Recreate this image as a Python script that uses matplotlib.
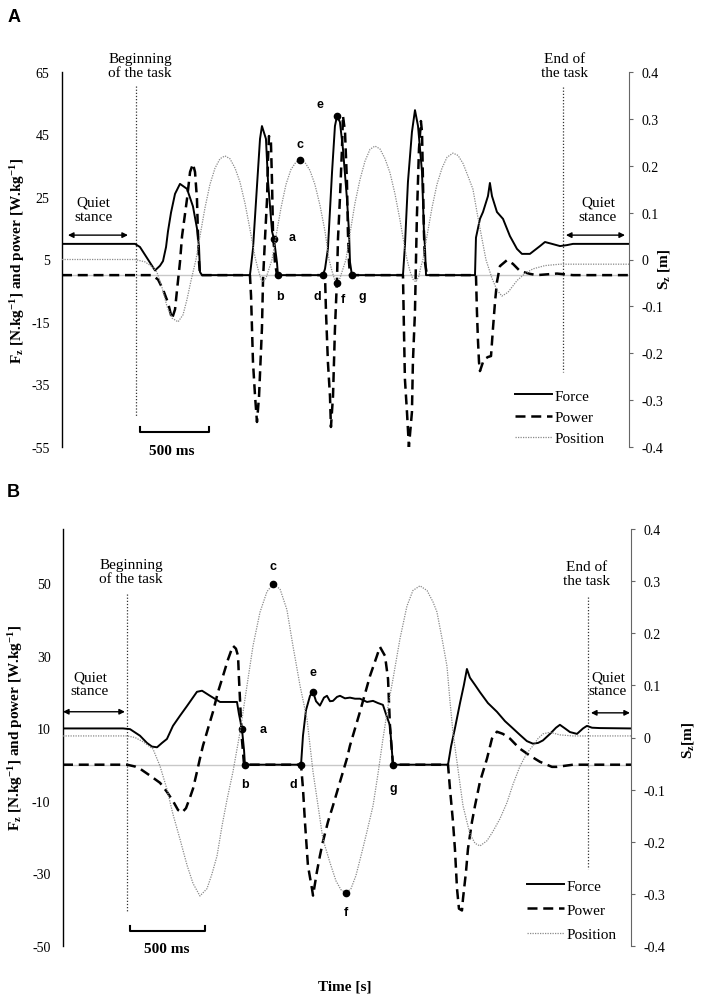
import matplotlib
matplotlib.use("Agg")
import matplotlib.pyplot as plt
import numpy as np

plt.rcParams["font.family"] = ["Liberation Serif", "DejaVu Serif"]
plt.rcParams["mathtext.fontset"] = "custom"
plt.rcParams["mathtext.rm"] = "Liberation Serif"
plt.rcParams["mathtext.bf"] = "Liberation Serif:bold"
plt.rcParams["mathtext.it"] = "Liberation Serif:italic"
plt.rcParams["axes.unicode_minus"] = False

# ---------------- panel A (time in ms) ----------------
a_force_t = [0, 529, 565, 616, 674, 710, 732, 754, 768, 790, 819, 855, 906, 949, 978, 993, 1000, 1014,
             1362, 1370, 1384, 1413, 1435, 1449, 1478, 1493, 1522, 1536, 1558, 1565,
             1891, 1906, 1927, 1957, 1978, 1993, 2014, 2036, 2065, 2080, 2087, 2101,
             2471, 2485, 2507, 2536, 2558, 2580, 2609, 2623, 2630, 2638,
             2993, 3000, 3029, 3051, 3087, 3101, 3116, 3152, 3196, 3246, 3297, 3333, 3391,
             3464, 3500, 3551, 3609, 3659, 3703, 4109]
a_force = [10, 10, 9, 5.5, 1.5, 3, 4.5, 9, 14, 20, 26, 29.2, 27.6, 22, 15, 9, 1, 0,
           0, 3, 8.4, 28.5, 43.6, 47.7, 43.6, 30, 14, 11.6, 4, 0,
           0, 2, 8.4, 33, 47.7, 50.9, 49, 40.4, 24.4, 13.8, 4.2, 0,
           0, 9.3, 29.8, 45.8, 52.8, 47.7, 33, 13.8, 9.3, 0,
           0, 12, 18, 20.2, 25.3, 29.5, 25.3, 20.2, 18, 12.5, 8.4, 6.8, 6.8,
           9.3, 10.6, 10, 9.3, 9.6, 10, 10]

a_power_t = [0, 652, 696, 732, 768, 797, 819, 833, 855, 870, 906, 928, 949, 964, 978, 985, 993, 1000,
             1362, 1370, 1377, 1384, 1399, 1413, 1428, 1449, 1457, 1471, 1486, 1493, 1500, 1514,
             1522, 1529, 1543, 1558,
             1906, 1913, 1927, 1942, 1949, 1964, 1978, 1993, 2000, 2014, 2029, 2036, 2051, 2065,
             2072, 2080, 2087,
             2471, 2478, 2485, 2500, 2514, 2536, 2543, 2558, 2565, 2572, 2587, 2601, 2609, 2616,
             2623, 2630, 2645,
             3000, 3007, 3014, 3022, 3029, 3051, 3065, 3087, 3109, 3123, 3138, 3152, 3174, 3225,
             3268, 3319, 3391, 3442, 3587, 3703, 4109]
a_power = [0, 0, -1.4, -4.6, -8.8, -14, -11, -5, 4.2, 12.5, 24.4, 33, 35.6, 33, 24.4, 13.8, 4.2, 0,
           0, -6.7, -17.2, -27.8, -38.7, -47, -38.7, -17, -1.2, 11.6, 24.4, 37.2, 44.5, 42.6,
           29.8, 13.8, 4.2, 0,
           0, -11.6, -27.8, -38.7, -48.6, -38.7, -17.2, -1.2, 11.6, 24.4, 40.4, 51, 45.8, 29.8,
           13.8, 4.2, 0,
           0, -17.2, -33.2, -43.8, -55, -43.8, -27.8, -11.6, 4.2, 18.9, 40.4, 49.3, 45.8, 29.8,
           13.8, 4.2, 0,
           0, -11.6, -20.4, -27.8, -30.7, -27.8, -26.8, -26.2, -25.9, -17.2, -8.6, -2.2, 2.9, 4.8,
           3.6, 1.3, 0.4, 0, 0.5, 0, 0]

a_pos_t = [0, 529, 601, 652, 688, 725, 761, 797, 841, 877, 906, 935, 971, 1000, 1036, 1072, 1109,
           1145, 1181, 1217, 1254, 1290, 1326, 1362, 1399, 1420, 1442, 1457, 1478, 1500, 1522,
           1551, 1587, 1623, 1659, 1696, 1725, 1761, 1797, 1833, 1870, 1906, 1935, 1957, 1978,
           1993, 2014, 2036, 2058, 2087, 2123, 2159, 2196, 2232, 2268, 2304, 2341, 2377, 2413,
           2449, 2478, 2500, 2522, 2543, 2565, 2587, 2601, 2616, 2645, 2681, 2717, 2754, 2790,
           2833, 2870, 2906, 2942, 2978, 3014, 3043, 3072, 3116, 3152, 3188, 3232, 3297, 3355,
           3413, 3500, 3609, 4109]
a_pos = [0, 0, -0.005, -0.015, -0.027, -0.06, -0.1, -0.125, -0.133, -0.118, -0.085, -0.045, 0.0,
         0.05, 0.11, 0.16, 0.195, 0.215, 0.221, 0.215, 0.195, 0.165, 0.12, 0.065, 0.005, -0.02,
         -0.042, -0.048, -0.04, -0.02, 0.0, 0.05, 0.11, 0.16, 0.192, 0.208, 0.212, 0.207, 0.19,
         0.16, 0.115, 0.06, 0.0, -0.025, -0.045, -0.05, -0.04, -0.02, 0.0, 0.055, 0.12, 0.17,
         0.21, 0.235, 0.242, 0.236, 0.215, 0.185, 0.14, 0.085, 0.035, 0.0, -0.025, -0.042,
         -0.048, -0.035, -0.015, 0.0, 0.05, 0.11, 0.16, 0.195, 0.218, 0.227, 0.222, 0.205,
         0.178, 0.15, 0.09, 0.045, 0.0, -0.04, -0.065, -0.078, -0.07, -0.045, -0.03, -0.02,
         -0.013, -0.01, -0.01]

# key events: letter, time, value, axis ("F" = force axis, "S" = position axis)
a_marks = [("a", 1536, 11.6, "F"), ("b", 1565, 0, "F"), ("c", 1725, 0.212, "S"),
           ("d", 1891, 0, "F"), ("e", 1993, 50.9, "F"), ("f", 1993, -0.05, "S"),
           ("g", 2101, 0, "F")]

# ---------------- panel B (time in ms) ----------------
b_force_t = [0, 400, 447, 513, 560, 593, 627, 660, 693, 733, 780, 827, 893, 927, 980, 1047, 1160,
             1173, 1193, 1207, 1213, 1587, 1600, 1620, 1647, 1667, 1687, 1713, 1740, 1760, 1780,
             1800, 1827, 1847, 1880, 1913, 1947, 1980, 2027, 2067, 2100, 2133, 2153, 2180, 2187,
             2200, 2567, 2587, 2613, 2647, 2673, 2693, 2713, 2747, 2780, 2833, 2893, 2947, 3000,
             3047, 3093, 3133, 3167, 3200, 3247, 3287, 3313, 3347, 3380, 3427, 3467, 3493, 3527,
             3580, 3787]
b_force = [10, 10, 9.8, 8, 6, 5, 4.8, 6, 7.1, 10.7, 13.5, 16.2, 20.1, 20.4, 19, 17.3, 17.3, 14,
           9.9, 4, 0, 0, 8, 15, 19, 20.1, 17.5, 16.3, 18.5, 19, 17.5, 17.6, 18.7, 19, 18.3, 18.5,
           18.2, 18.2, 17.3, 17.6, 17, 16.5, 14, 10.8, 7, 0, 0, 5, 10, 17, 22, 26.4, 24, 22, 20,
           17, 14.6, 12, 10, 8.2, 6.5, 5.8, 6, 6.7, 8.5, 10.2, 11, 10, 9, 8.5, 10, 10.7, 10.2,
           10.1, 10]

b_power_t = [0, 427, 480, 513, 580, 647, 693, 733, 767, 793, 820, 847, 867, 893, 913, 933, 967,
             1000, 1033, 1067, 1100, 1133, 1153, 1167, 1173, 1180, 1187, 1193, 1207, 1587, 1600,
             1613, 1633, 1660, 1667, 1693, 1713, 1733, 1767, 1800, 1847, 1893, 1913, 1980, 2047,
             2093, 2113, 2147, 2167, 2180, 2193, 2200, 2567, 2580, 2600, 2613, 2627, 2640, 2660,
             2667, 2687, 2700, 2727, 2747, 2780, 2827, 2860, 2893, 2933, 2980, 3027, 3047, 3113,
             3180, 3260, 3293, 3400, 3787]
b_power = [0, 0, -0.5, -1.1, -3, -5, -7.5, -10, -12.5, -13.2, -12, -9, -6.6, -2, 1.7, 5.2, 10,
           14.6, 20, 24.5, 29, 32.8, 32, 30, 24, 18, 12, 7, 0, 0, -6.6, -15.7, -27.8, -34.2,
           -36.1, -29.5, -25.1, -21.2, -15.7, -11.3, -4.7, 1.7, 5.2, 14.6, 24.5, 30, 32.5, 30,
           23.7, 10.7, 3.6, 0, 0, -6.6, -15.7, -23.2, -34.2, -39.7, -40.2, -36.9, -29.5, -23.2,
           -15.7, -11.3, -4.7, 1.7, 7.2, 9.1, 8.5, 7.2, 5.2, 4.4, 2.5, 0.8, -0.6, -0.6, 0, 0]

b_pos_t = [0, 427, 480, 533, 600, 647, 693, 733, 780, 827, 867, 913, 960, 993, 1027, 1060, 1093,
           1133, 1180, 1227, 1267, 1313, 1360, 1400, 1447, 1493, 1533, 1580, 1627, 1667, 1700,
           1733, 1780, 1820, 1853, 1887, 1920, 1953, 1993, 2027, 2067, 2100, 2133, 2167, 2200,
           2247, 2293, 2333, 2380, 2427, 2467, 2493, 2527, 2560, 2580, 2600, 2633, 2667, 2713,
           2747, 2780, 2827, 2867, 2913, 2960, 3000, 3047, 3093, 3133, 3167, 3200, 3247, 3313,
           3400, 3787]
b_pos = [0.003, 0.003, 0.0, -0.008, -0.022, -0.055, -0.099, -0.147, -0.195, -0.245, -0.28,
         -0.304, -0.29, -0.262, -0.227, -0.17, -0.12, -0.066, 0.01, 0.1, 0.176, 0.24, 0.28, 0.294,
         0.285, 0.245, 0.176, 0.1, 0.035, -0.066, -0.13, -0.195, -0.24, -0.275, -0.292, -0.298,
         -0.29, -0.265, -0.22, -0.18, -0.131, -0.07, -0.003, 0.06, 0.112, 0.19, 0.252, 0.282,
         0.291, 0.282, 0.26, 0.241, 0.19, 0.137, 0.07, 0.01, -0.06, -0.131, -0.185, -0.203,
         -0.208, -0.198, -0.18, -0.156, -0.125, -0.09, -0.055, -0.03, -0.016, -0.002, 0.007,
         0.01, 0.005, 0.003, 0.003]

b_marks = [("a", 1193, 9.9, "F"), ("b", 1213, 0, "F"), ("c", 1400, 0.294, "S"),
           ("d", 1587, 0, "F"), ("e", 1667, 20.1, "F"), ("f", 1887, -0.298, "S"),
           ("g", 2200, 0, "F")]

a_left_ticks = [-55, -35, -15, 5, 25, 45, 65]
b_left_ticks = [-50, -30, -10, 10, 30, 50]
right_ticks = [-0.4, -0.3, -0.2, -0.1, 0, 0.1, 0.2, 0.3, 0.4]
legend_labels = ["Force", "Power", "Position"]

FORCE = dict(color="black", lw=1.4, ls="-")
POWER = dict(color="black", lw=1.8, ls=(0, (4, 2.3)))
POSITION = dict(color="#8a8a8a", lw=0.9, ls=(0, (1, 1)))
YLABEL = r"F$_\mathbf{z}$ [N.kg$^\mathbf{-1}$] and power [W.kg$^\mathbf{-1}$]"
W, H = 702, 1003


def make_panel(fig, rect, xmax, ylim, yticks, force_t, force, power_t, power, pos_t, pos, slabel):
    ax = fig.add_axes(rect)
    ax2 = ax.twinx()
    ax.axhline(0, color="#c8c8c8", lw=1, zorder=0)
    ax.plot(force_t, force, **FORCE, zorder=3)
    ax.plot(power_t, power, **POWER, zorder=2)
    ax2.plot(pos_t, pos, **POSITION, zorder=1)
    ax.set_xlim(0, xmax)
    ax.set_ylim(*ylim)
    ax2.set_ylim(-0.4, 0.4)
    ax.set_yticks(yticks)
    ax2.set_yticks(right_ticks)
    ax2.set_yticklabels([f"{v:g}" for v in right_ticks])
    for s in ["top", "bottom", "right"]:
        ax.spines[s].set_visible(False)
    for s in ["top", "bottom", "left"]:
        ax2.spines[s].set_visible(False)
    ax.spines["left"].set_linewidth(1)
    ax2.spines["right"].set_color("#666666")
    ax.tick_params(axis="y", length=0, pad=9, labelsize=10)
    ax.tick_params(axis="x", bottom=False, labelbottom=False)
    ax2.tick_params(axis="y", length=3, width=0.8, color="#666666", pad=6, labelsize=10)
    ax.set_ylabel(YLABEL, fontsize=11, fontweight="bold")
    ax2.set_ylabel(slabel, fontsize=11, fontweight="bold", rotation=90)
    return ax, ax2


def add_marks(ax, ax2, marks, offsets):
    for letter, t, v, side in marks:
        target = ax if side == "F" else ax2
        target.plot([t], [v], "o", color="black", ms=4.5, zorder=5)
        dx, dy = offsets[letter]
        target.annotate(letter, xy=(t, v), xytext=(dx * 0.72, dy * 0.72),
                        textcoords="offset points", ha="center", va="center",
                        fontsize=9, fontweight="bold", family="Liberation Sans")


def add_arrow(ax, x0, x1, y):
    ax.annotate("", xy=(x1, y), xytext=(x0, y), annotation_clip=False,
                arrowprops=dict(arrowstyle="<|-|>", color="black", lw=1,
                                mutation_scale=8, shrinkA=0, shrinkB=0))


def add_legend(fig, ax, x, y, spacing):
    from matplotlib.lines import Line2D
    handles = [Line2D([], [], **FORCE), Line2D([], [], **POWER), Line2D([], [], **POSITION)]
    fig.legend(handles, legend_labels, loc="upper left", bbox_to_anchor=(x / W, 1 - y / H),
               bbox_transform=fig.transFigure, frameon=False, fontsize=11, borderpad=0,
               borderaxespad=0, handlelength=2.4, handletextpad=0.2, labelspacing=spacing)


fig = plt.figure(figsize=(W / 100, H / 100), dpi=100)

# ---- A ----
axA, axA2 = make_panel(fig, [62 / W, 1 - 448 / H, 567 / W, 375 / H], 4109, (-55, 65), a_left_ticks,
                       a_force_t, a_force, a_power_t, a_power, a_pos_t, a_pos,
                       r"S$_\mathbf{z}$ [m]")
axA.yaxis.set_label_coords(-0.062, 0.5)
axA2.yaxis.set_label_coords(1.048, 0.475)
add_marks(axA, axA2, a_marks, {"a": (18, 2), "b": (2, -21), "c": (0, 16), "d": (-6, -21),
                               "e": (-17, 12), "f": (6, -16), "g": (10, -21)})
axA.plot([536, 536], [60.5, -45], color="#333333", lw=0.9, ls=(0, (1, 1.5)), clip_on=False)
axA.plot([3630, 3630], [60.2, -31], color="#333333", lw=0.9, ls=(0, (1, 1.5)), clip_on=False)
axA.text(565, 67, "Beginning\nof the task", ha="center", va="center", fontsize=11, linespacing=1.1)
axA.text(3645, 67, "End of\nthe task", ha="center", va="center", fontsize=11, linespacing=1.1)
axA.text(225, 21, "Quiet\nstance", ha="center", va="center", fontsize=11, linespacing=1.1)
axA.text(3884, 21, "Quiet\nstance", ha="center", va="center", fontsize=11, linespacing=1.1)
add_arrow(axA, 43, 478, 12.8)
add_arrow(axA, 3652, 4080, 12.8)
axA.plot([565, 565, 1065, 1065], [-48.6, -50.2, -50.2, -48.6], color="black", lw=1.5,
         clip_on=False)
axA.text(797, -56, "500 ms", ha="center", va="center", fontsize=11, fontweight="bold")
add_legend(fig, axA, 515, 390, 0.5)

# ---- B ----
axB, axB2 = make_panel(fig, [63 / W, 1 - 947 / H, 568 / W, 417 / H], 3787, (-50, 65), b_left_ticks,
                       b_force_t, b_force, b_power_t, b_power, b_pos_t, b_pos,
                       r"S$_\mathbf{z}$[m]")
axB.yaxis.set_label_coords(-0.067, 0.525)
axB2.yaxis.set_label_coords(1.086, 0.496)
add_marks(axB, axB2, b_marks, {"a": (21, 0), "b": (0, -19), "c": (0, 18), "d": (-8, -19),
                               "e": (0, 20), "f": (0, -19), "g": (0, -23)})
axB.plot([427, 427], [47.1, -40.5], color="#333333", lw=0.9, ls=(0, (1, 1.5)), clip_on=False)
axB.plot([3500, 3500], [46.3, -28.7], color="#333333", lw=0.9, ls=(0, (1, 1.5)), clip_on=False)
axB.text(453, 53.4, "Beginning\nof the task", ha="center", va="center", fontsize=11, linespacing=1.1)
axB.text(3493, 52.6, "End of\nthe task", ha="center", va="center", fontsize=11, linespacing=1.1)
axB.text(180, 22.3, "Quiet\nstance", ha="center", va="center", fontsize=11, linespacing=1.1)
axB.text(3633, 22.3, "Quiet\nstance", ha="center", va="center", fontsize=11, linespacing=1.1)
add_arrow(axB, 0, 413, 14.6)
add_arrow(axB, 3520, 3780, 14.3)
axB.plot([447, 447, 947, 947], [-44.4, -46, -46, -44.4], color="black", lw=1.5, clip_on=False)
axB.text(693, -50.7, "500 ms", ha="center", va="center", fontsize=11, fontweight="bold")
add_legend(fig, axB, 527, 880, 0.68)

fig.text(14 / W, 1 - 17 / H, "A", fontsize=13, fontweight="bold", family="Liberation Sans",
         ha="center", va="center")
fig.text(13 / W, 1 - 493 / H, "B", fontsize=13, fontweight="bold", family="Liberation Sans",
         ha="center", va="center")
fig.text(345 / W, 1 - 987 / H, "Time [s]", fontsize=11, fontweight="bold", ha="center",
         va="center")

fig.savefig("out.png", dpi=100)
